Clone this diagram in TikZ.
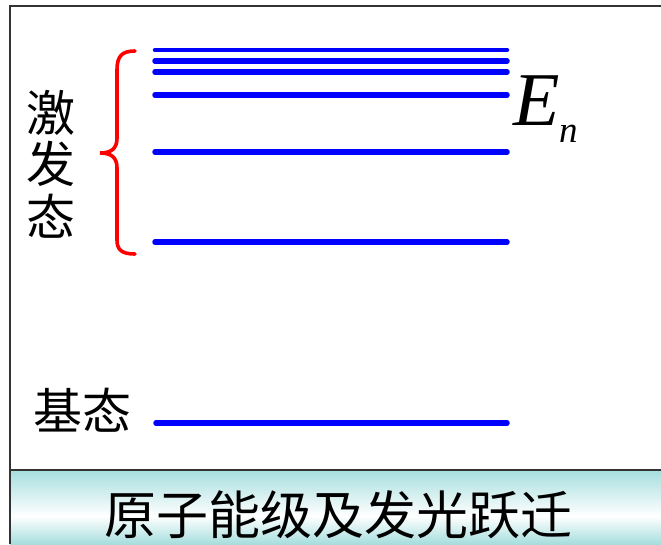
\documentclass[tikz,border=0pt]{standalone}
\usepackage{fontspec}
\setmainfont{Liberation Serif}
\newfontfamily\cjk{Noto Sans CJK SC}
\begin{document}
\begin{tikzpicture}[x=1pt,y=-1pt,
  level/.style={draw=blue, line width=5.5pt, line cap=round},
  cjklabel/.style={font=\cjk\fontsize{49}{52}\selectfont, inner sep=0pt},
  frameline/.style={draw=black!80, line width=1.6pt}]
\useasboundingbox (0,0) rectangle (661,544);
\fill[white] (0,0) rectangle (661,544);
% bottom band
\shade[top color=cyan!25!teal!35!white, bottom color=white]
  (10,470) rectangle (661,516);
\shade[top color=white, bottom color=cyan!25!teal!35!white]
  (10,516) rectangle (661,544);
% frame
\draw[frameline] (10,544) -- (10,6) -- (662,6);
\draw[frameline] (10,470) -- (662,470);
% energy levels
\draw[level, line width=4.5pt] (155,50) -- (507,50);
\draw[level] (155,61) -- (507,61);
\draw[level] (155,72) -- (507,72);
\draw[level] (155,95) -- (507,95);
\draw[level] (155,152) -- (507,152);
\draw[level] (155,242) -- (507,242);
\draw[level] (156,423) -- (507,423);
% brace
\draw[red, line width=3.6pt, line cap=round]
  (135,51) .. controls (122,51) and (117,56) .. (117,70) -- (117,138)
  .. controls (117,148) and (112,153) .. (100,153)
  .. controls (112,153) and (117,158) .. (117,168) -- (117,240)
  .. controls (117,250) and (122,254) .. (135,254);
% labels
\node[cjklabel] (ex1) at (51,113) {激};
\node[cjklabel] (ex2) at (51,164) {发};
\node[cjklabel] (ex3) at (51,216) {态};
\node[cjklabel, anchor=west] (ground) at (33,410) {基态};
\node[inner sep=0pt, anchor=base west, font=\fontsize{76}{76}\selectfont\itshape] (E) at (513,125) {E};
\node[inner sep=0pt, anchor=base west, font=\fontsize{37}{37}\selectfont\itshape] (n) at (559,142) {n};
\node[inner sep=0pt, font=\cjk\fontsize{52}{54}\selectfont] (title) at (338,515) {原子能级及发光跃迁};
\end{tikzpicture}
\end{document}
